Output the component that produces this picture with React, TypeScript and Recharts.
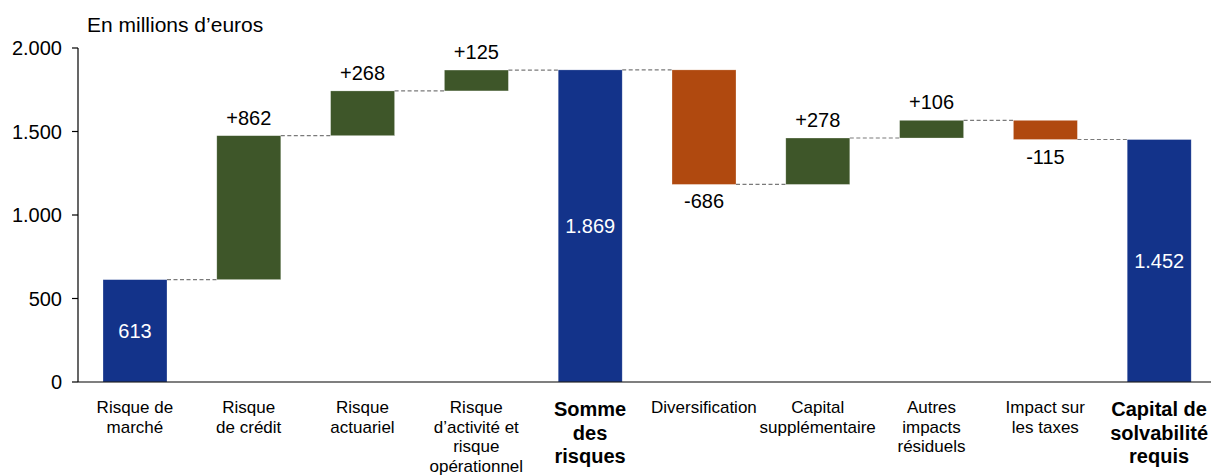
import { ComposedChart, Bar, XAxis, YAxis, LabelList } from "recharts";

// Waterfall of the solvency capital requirement, in millions of euros.
const categories = [
  "Risque de\nmarché",
  "Risque\nde crédit",
  "Risque\nactuariel",
  "Risque\nd’activité et\nrisque\nopérationnel",
  "Somme\ndes\nrisques",
  "Diversification",
  "Capital\nsupplémentaire",
  "Autres\nimpacts\nrésiduels",
  "Impact sur\nles taxes",
  "Capital de\nsolvabilité\nrequis",
];
const values = [613, 862, 268, 125, 1869, -686, 278, 106, -115, 1452];
const isTotal = [true, false, false, false, true, false, false, false, false, true];
const yTicks = [0, 500, 1000, 1500, 2000];

const CHART_W = 1216;
const CHART_H = 475;
const Y_AXIS_W = 78;
const BAND = (CHART_W - Y_AXIS_W) / categories.length;
const FONT = '"Liberation Sans", Arial, sans-serif';

const colors = { total: "#13338A", up: "#3E5629", down: "#B0490F" };

// "1869" -> "1.869"
const fmt = (n: number) => String(Math.abs(n)).replace(/\B(?=(\d{3})+(?!\d))/g, ".");

// base = invisible offset, span = visible height of the bar
const chartData = (() => {
  let level = 0;
  return categories.map((name, i) => {
    const v = values[i];
    if (isTotal[i]) {
      level = v;
      return { name, base: 0, span: v, value: v, total: true };
    }
    if (v >= 0) {
      const base = level;
      level += v;
      return { name, base, span: v, value: v, total: false };
    }
    level += v;
    return { name, base: level, span: -v, value: v, total: false };
  });
})();

const colorFor = (i: number) => {
  const d = chartData[i];
  if (d.total) return colors.total;
  return d.value < 0 ? colors.down : colors.up;
};

// bar plus the dashed connector running over to the next bar
const WaterfallBar = (props: any) => {
  const { x, y, width, height } = props;
  const index: number = props.index ?? chartData.findIndex((d) => d.name === props.payload?.name);
  const d = chartData[index];
  if (!d) return null;
  const endY = !d.total && d.value < 0 ? y + height : y;
  const isLast = index === chartData.length - 1;
  return (
    <g>
      <rect
        x={x}
        y={y}
        width={width}
        height={height}
        fill={colorFor(index)}
        stroke="rgba(255,255,255,0.45)"
        strokeWidth={0.6}
      />
      {!isLast && (
        <line
          x1={x + width}
          x2={x + BAND}
          y1={endY}
          y2={endY}
          stroke="#7a7a7a"
          strokeDasharray="4 2.5"
          strokeWidth={1.2}
        />
      )}
    </g>
  );
};

const ValueLabel = (props: any) => {
  const vb = props.viewBox ?? props;
  const x = vb.x ?? props.x;
  const y = vb.y ?? props.y;
  const width = vb.width ?? props.width;
  const height = vb.height ?? props.height;
  const index: number = props.index;
  const d = chartData[index];
  if (!d) return null;
  const cx = x + width / 2;
  if (d.total) {
    return (
      <text x={cx} y={y + height / 2} fill="#fff" fontSize={20} fontFamily={FONT}
        textAnchor="middle" dominantBaseline="central">
        {fmt(d.value)}
      </text>
    );
  }
  if (d.value >= 0) {
    return (
      <text x={cx} y={y - 11} fill="#000" fontSize={20} fontFamily={FONT} textAnchor="middle">
        {`+${fmt(d.value)}`}
      </text>
    );
  }
  return (
    <text x={cx} y={y + height + 24} fill="#000" fontSize={20} fontFamily={FONT} textAnchor="middle">
      {`-${fmt(d.value)}`}
    </text>
  );
};

const CategoryTick = ({ x, y, payload }: any) => {
  const idx = categories.indexOf(payload.value);
  const bold = isTotal[idx] && idx !== 0;
  const lines = String(payload.value).split("\n");
  const size = bold ? 20 : 17;
  const lh = bold ? 23.5 : 19.5;
  return (
    <text x={x} y={y} textAnchor="middle" fill="#000" fontFamily={FONT}
      fontSize={size} fontWeight={bold ? 700 : 400}>
      {lines.map((line, k) => (
        <tspan key={k} x={x} dy={k === 0 ? (bold ? 34 : 31) : lh}>
          {line}
        </tspan>
      ))}
    </text>
  );
};

export default function App() {
  return (
    <div style={{ position: "absolute", left: 0, top: 0, width: 1211, height: CHART_H, overflow: "hidden", background: "#fff" }}>
      <div style={{ position: "absolute", left: 87, top: 15, fontFamily: FONT, fontSize: 21, lineHeight: "20px", color: "#000" }}>
        En millions d’euros
      </div>
      <ComposedChart
        width={CHART_W}
        height={CHART_H}
        data={chartData}
        margin={{ top: 48, right: 0, bottom: 0, left: 0 }}
        barSize={64}
      >
        <XAxis
          dataKey="name"
          interval={0}
          tickLine={false}
          tickSize={0}
          tickMargin={0}
          height={93}
          axisLine={{ stroke: "#000", strokeWidth: 1.2 }}
          tick={<CategoryTick />}
        />
        <YAxis
          width={Y_AXIS_W}
          domain={[0, 2000]}
          ticks={yTicks}
          tickSize={6}
          tickMargin={10}
          axisLine={{ stroke: "#000", strokeWidth: 1.2 }}
          tickLine={{ stroke: "#000", strokeWidth: 1.2 }}
          tickFormatter={(v: number) => fmt(v)}
          tick={{ fill: "#000", fontSize: 20, fontFamily: FONT }}
        />
        <Bar dataKey="base" stackId="w" fill="transparent" isAnimationActive={false} />
        <Bar dataKey="span" stackId="w" shape={<WaterfallBar />} isAnimationActive={false}>
          <LabelList dataKey="span" content={<ValueLabel />} />
        </Bar>
      </ComposedChart>
    </div>
  );
}
